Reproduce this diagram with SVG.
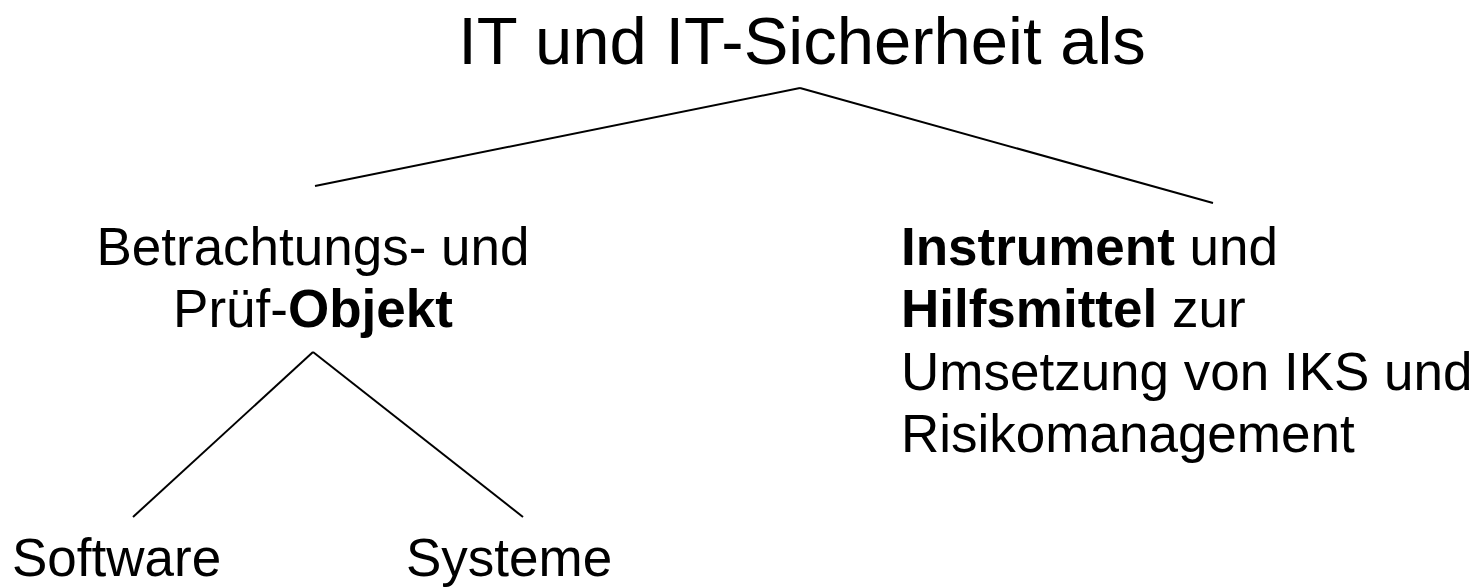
<svg xmlns="http://www.w3.org/2000/svg" width="1481" height="587" viewBox="0 0 1481 587">
  <style>
    text { font-family: "Liberation Sans", Arial, sans-serif; fill: #000; }
    .t { font-size: 67px; }
    .n { font-size: 53px; }
    .b { font-weight: bold; }
    .c { stroke: #000; stroke-width: 2; fill: none; }
  </style>
  <rect width="1481" height="587" fill="#fff"/>
  <g id="connectors">
    <line class="c" x1="800" y1="88" x2="315" y2="186"/>
    <line class="c" x1="800" y1="88" x2="1213" y2="203"/>
    <line class="c" x1="313" y1="352" x2="133" y2="517"/>
    <line class="c" x1="313" y1="352" x2="523" y2="517"/>
  </g>
  <g id="root">
    <text class="t" x="802" y="64" text-anchor="middle">IT und IT-Sicherheit als</text>
  </g>
  <g id="objekt">
    <text class="n" x="313" y="265" text-anchor="middle">Betrachtungs- und</text>
    <text class="n" x="313" y="327" text-anchor="middle">Prüf-<tspan class="b">Objekt</tspan></text>
  </g>
  <g id="instrument">
    <text class="n" x="901" y="265"><tspan class="b">Instrument</tspan> und</text>
    <text class="n" x="901" y="327"><tspan class="b">Hilfsmittel</tspan> zur</text>
    <text class="n" x="901" y="390">Umsetzung von IKS und</text>
    <text class="n" x="901" y="452">Risikomanagement</text>
  </g>
  <g id="software">
    <text class="n" x="12" y="576">Software</text>
  </g>
  <g id="systeme">
    <text class="n" x="406" y="576">Systeme</text>
  </g>
</svg>
